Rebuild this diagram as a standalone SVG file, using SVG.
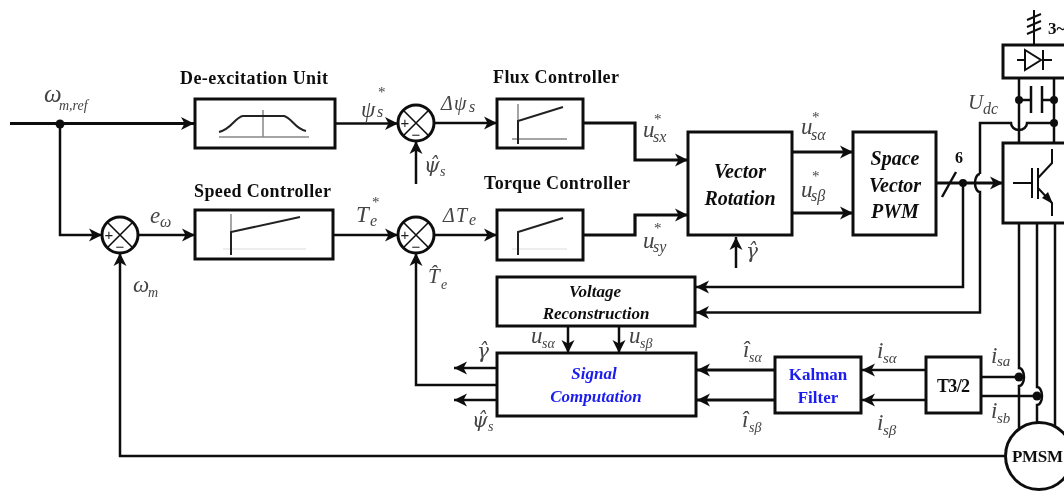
<svg xmlns="http://www.w3.org/2000/svg" width="1064" height="491" viewBox="0 0 1064 491">
<style>
text{font-family:"Liberation Serif","Times New Roman",serif;fill:#111}
.t{font-weight:bold;font-size:18px}
.bi{font-weight:bold;font-style:italic;font-size:20px;text-anchor:middle}
.v{font-weight:bold;font-style:italic;font-size:17px;text-anchor:middle}
.blue{fill:#1a1aee}
.bb{font-weight:bold;font-size:17px;text-anchor:middle;fill:#1a1aee}
.m{font-style:italic;font-size:23px;fill:#444}
.d{font-family:"DejaVu Serif",serif;font-size:20px;font-style:italic;fill:#444}
.s{font-size:14px}
.st{font-size:15px;font-style:normal}
.box{fill:#fff;stroke:#111;stroke-width:3}
.c{fill:none;stroke:#111;stroke-width:2.5}
.thick{stroke-width:3.2}
.a{marker-end:url(#arr)}
.g1{fill:none;stroke:#888;stroke-width:1.5}
.g2{fill:none;stroke:#222;stroke-width:2}
.g3{fill:none;stroke:#ddd;stroke-width:1}
.sum{fill:#fff;stroke:#111;stroke-width:3}
.x{stroke:#111;stroke-width:1.6}
.sg{font-family:"Liberation Sans",sans-serif;font-size:15px;text-anchor:middle;fill:#222}
.dot{fill:#111}
</style>
<defs>
<marker id="arr" markerUnits="userSpaceOnUse" markerWidth="14" markerHeight="14" viewBox="0 -7 14 14" refX="13" refY="0" orient="auto">
<path d="M0,-6.500 L13,0 L0,6.500 L3.500,0Z" fill="#111"/>
</marker>
<filter id="soft" x="0" y="0" width="100%" height="100%" filterUnits="userSpaceOnUse"><feGaussianBlur stdDeviation="0.4"/></filter>
</defs>
<g filter="url(#soft)">
<rect width="1064" height="491" fill="#fff"/>
<g id="connectors">
<path class="c thick a" d="M10,123.500H194"/>
<path class="c a" d="M60,124V235H102"/>
<path class="c a" d="M138,235H195"/>
<path class="c a" d="M335,123.500H398"/>
<path class="c a" d="M333,235H398"/>
<path class="c a" d="M434,123H497"/>
<path class="c a" d="M434,235H497"/>
<path class="c a" d="M416,184V141"/>
<path class="c thick a" d="M583,123H635V160H688"/>
<path class="c thick a" d="M583,235H635V215H688"/>
<path class="c thick a" d="M792,152H853"/>
<path class="c thick a" d="M792,213H853"/>
<path class="c a" d="M736,268V237"/>
<path class="c thick a" d="M936,183H1003"/>
<path class="c" d="M942,197L956,172"/>
<path class="c a" d="M963,183V287H696"/>
<path class="c a" d="M980,174V123H1011A8,7 0 0 0 1027,123H1054M980,174A5,9 0 0 0 980,192V312.500H696"/>
<path class="c" d="M1034,10V45M1027,20L1041,14M1027,27L1041,21M1027,34L1041,28" style="stroke-width:2"/>
<path class="c" d="M1019,78V143M1054,78V143M1019,100H1031M1042,100H1054"/>
<path class="c" d="M1031,86V113M1042,86V113"/>
<path class="c" d="M1019,223V368A5,9 0 0 1 1019,386V430M1037,223V387A5,9 0 0 1 1037,405V424M1055,223V432"/>
<path class="c" d="M981,377H1019M981,396H1037"/>
<path class="c a" d="M926,370H862"/>
<path class="c a" d="M926,400H862"/>
<path class="c thick a" d="M775,370H697"/>
<path class="c thick a" d="M775,400H697"/>
<path class="c a" d="M568,326V353"/>
<path class="c a" d="M619,326V353"/>
<path class="c a" d="M497,368H454"/>
<path class="c a" d="M497,400H454"/>
<path class="c a" d="M497,385H416V253"/>
<path class="c a" d="M1006,456H120V253"/>
<circle class="dot" cx="60" cy="124" r="4.500"/>
<circle class="dot" cx="963" cy="183" r="4"/>
<circle class="dot" cx="1019" cy="100" r="4"/>
<circle class="dot" cx="1054" cy="100" r="4"/>
<circle class="dot" cx="1054" cy="123" r="4"/>
<circle class="dot" cx="1019" cy="377" r="4.500"/>
<circle class="dot" cx="1037" cy="396" r="4.500"/>
</g>

<g id="sum-speed"><circle class="sum" cx="120" cy="235" r="18"/><path class="x" d="M107.300,222.300L132.700,247.700M132.700,222.300L107.300,247.700"/><text class="sg" x="109" y="240">+</text><text class="sg" x="120" y="252">−</text></g>
<g id="sum-flux"><circle class="sum" cx="416" cy="123" r="18"/><path class="x" d="M403.300,110.300L428.700,135.700M428.700,110.300L403.300,135.700"/><text class="sg" x="405" y="128">+</text><text class="sg" x="416" y="140">−</text></g>
<g id="sum-torque"><circle class="sum" cx="416" cy="235" r="18"/><path class="x" d="M403.300,222.300L428.700,247.700M428.700,222.300L403.300,247.700"/><text class="sg" x="405" y="240">+</text><text class="sg" x="416" y="252">−</text></g>

<g id="de-excitation-unit">
<rect class="box" x="195" y="99" width="140" height="49"/>
<path class="g1" d="M219,137H309M263,110V137"/>
<path class="g2" d="M219,132C232,129 235,117 243,116H284C292,118 295,129 306,131"/>
<text class="t" x="180" y="84" textLength="148">De-excitation Unit</text>
</g>
<g id="speed-controller">
<rect class="box" x="195" y="210" width="138" height="49"/>
<path class="g3" d="M223,249H306"/><path class="g1" d="M231,214V233"/>
<path class="g2" d="M231,255V232L300,217"/>
<text class="t" x="194" y="197" textLength="137">Speed Controller</text>
</g>
<g id="flux-controller">
<rect class="box" x="497" y="99" width="86" height="49"/>
<path class="g1" d="M512,139H567M518,104V121"/>
<path class="g2" d="M518,144V121L563,107"/>
<text class="t" x="493" y="83" textLength="126">Flux Controller</text>
</g>
<g id="torque-controller">
<rect class="box" x="497" y="210" width="86" height="50"/>
<path class="g3" d="M512,249H567"/>
<path class="g2" d="M518,255V232L563,218"/>
<text class="t" x="484" y="189" textLength="146">Torque Controller</text>
</g>
<g id="vector-rotation">
<rect class="box" x="688" y="132" width="104" height="103"/>
<text class="bi" x="740" y="178">Vector</text><text class="bi" x="740" y="205">Rotation</text>
</g>
<g id="space-vector-pwm">
<rect class="box" x="853" y="132" width="83" height="103"/>
<text class="bi" x="895" y="165">Space</text><text class="bi" x="895" y="192">Vector</text><text class="bi" x="895" y="218">PWM</text>
</g>
<g id="voltage-reconstruction">
<rect class="box" x="497" y="277" width="198" height="49"/>
<text class="v" x="595" y="297">Voltage</text><text class="v" x="596" y="319">Reconstruction</text>
</g>
<g id="signal-computation">
<rect class="box" x="497" y="353" width="199" height="63"/>
<text class="v blue" x="594" y="379">Signal</text><text class="v blue" x="596" y="402">Computation</text>
</g>
<g id="kalman-filter">
<rect class="box" x="775" y="357" width="86" height="56"/>
<text class="bb" x="818" y="380">Kalman</text><text class="bb" x="818" y="403">Filter</text>
</g>
<g id="t32">
<rect class="box" x="926" y="357" width="55" height="56"/>
<text class="t" x="937" y="392" textLength="33">T3/2</text>
</g>
<g id="rectifier">
<rect class="box" x="1003" y="45" width="70" height="33"/>
<path class="c" d="M1017,60H1025M1043,60H1052M1043,50V70" style="stroke-width:2"/>
<path class="c" d="M1025,50V70L1041,60Z" style="stroke-width:2"/>
<text class="t" x="1048" y="34" style="font-size:17px">3~</text>
</g>
<g id="inverter">
<rect class="box" x="1003" y="143" width="70" height="80"/>
<path class="c" d="M1013,183H1032M1032,168V198M1038,168V199M1038,178L1052,163V149M1038,188L1052,203V216" style="stroke-width:2"/>
<path class="dot" d="M1053,204L1042,198L1048,192Z"/>
</g>
<g id="pmsm">
<circle class="box" cx="1039" cy="456" r="33.500"/>
<text class="t" x="1012" y="462" textLength="51" style="font-size:17px">PMSM</text>
</g>

<g id="labels">
<text class="m" x="44" y="102" style="font-size:25px">ω<tspan class="s" x="59" y="110">m,ref</tspan></text>
<text class="m" x="361" y="117">ψ<tspan class="st" x="378" y="97">*</tspan><tspan style="font-size:16px" x="377" y="117">s</tspan></text>
<text class="m" x="441" y="110" style="font-size:20px">Δ<tspan x="454">ψ</tspan><tspan style="font-size:16px" x="469" y="112">s</tspan></text>
<text class="m" x="150" y="223">e<tspan style="font-size:16px" x="160" y="227">ω</tspan></text>
<text class="m" x="356" y="222">T<tspan class="st" x="372" y="207">*</tspan><tspan style="font-size:16px" x="370" y="226">e</tspan></text>
<text class="m" x="443" y="222" style="font-size:20px">Δ<tspan x="456">T</tspan><tspan style="font-size:16px" x="469" y="225">e</tspan></text>
<text class="m" x="643" y="137">u<tspan class="st" x="654" y="124">*</tspan><tspan style="font-size:16px" x="653" y="142">sx</tspan></text>
<text class="m" x="643" y="248">u<tspan class="st" x="654" y="233">*</tspan><tspan style="font-size:16px" x="653" y="252">sy</tspan></text>
<text class="m" x="801" y="134">u<tspan class="st" x="812" y="122">*</tspan><tspan style="font-size:16px" x="811" y="140">sα</tspan></text>
<text class="m" x="801" y="197">u<tspan class="st" x="812" y="181">*</tspan><tspan style="font-size:16px" x="811" y="201">sβ</tspan></text>
<text class="t" x="955" y="163" style="font-size:16px">6</text>
<text class="m" x="968" y="109" style="font-size:21px">U<tspan style="font-size:16px" x="983" y="114">dc</tspan></text>
<text class="d" x="424" y="172">ψ̂<tspan class="m" style="font-size:14px;font-family:'Liberation Serif'" x="440" y="176">s</tspan></text>
<text class="m" x="428" y="283" style="font-size:21px">T̂<tspan style="font-size:14px" x="441" y="289">e</tspan></text>
<text class="m" x="133" y="292">ω<tspan style="font-size:14px" x="148" y="297">m</tspan></text>
<text class="d" x="746" y="258">γ̂</text>
<text class="m" x="531" y="343">u<tspan style="font-size:14px" x="542" y="348">sα</tspan></text>
<text class="m" x="629" y="343">u<tspan style="font-size:14px" x="640" y="348">sβ</tspan></text>
<text class="d" x="477" y="358">γ̂</text>
<text class="d" x="472" y="427">ψ̂<tspan class="m" style="font-size:14px;font-family:'Liberation Serif'" x="488" y="431">s</tspan></text>
<text class="m" x="743" y="357">î<tspan style="font-size:14px" x="749" y="362">sα</tspan></text>
<text class="m" x="742" y="427">î<tspan style="font-size:14px" x="749" y="432">sβ</tspan></text>
<text class="m" x="877" y="358">i<tspan style="font-size:15px" x="883" y="363">sα</tspan></text>
<text class="m" x="877" y="430">i<tspan style="font-size:15px" x="883" y="435">sβ</tspan></text>
<text class="m" x="991" y="363">i<tspan style="font-size:15px" x="997" y="366">sa</tspan></text>
<text class="m" x="991" y="418">i<tspan style="font-size:15px" x="997" y="423">sb</tspan></text>
</g>
</g>
</svg>
